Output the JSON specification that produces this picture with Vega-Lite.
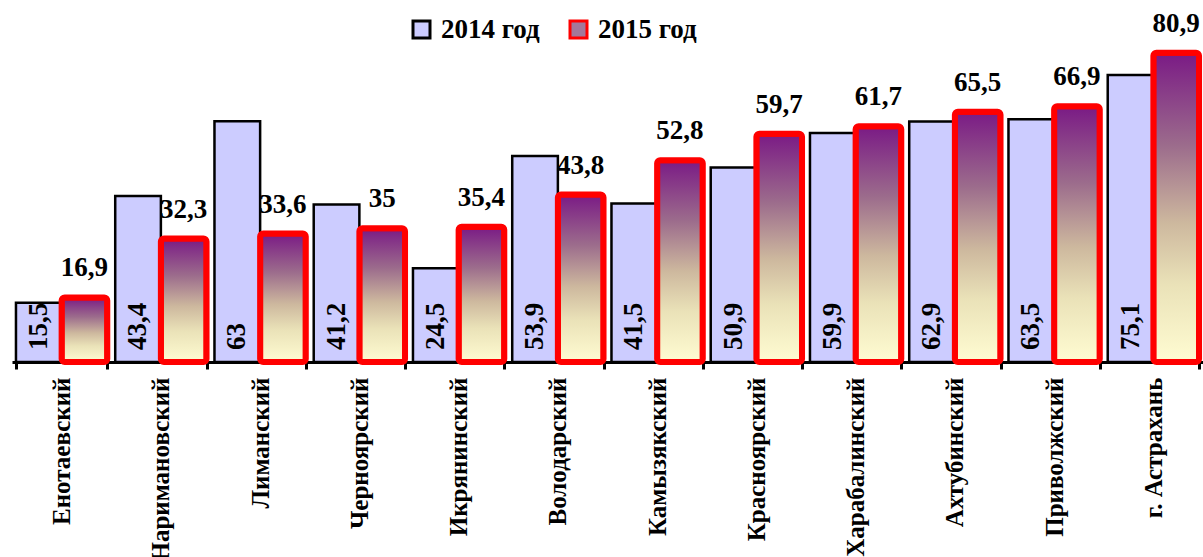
{
  "$schema": "https://vega.github.io/schema/vega-lite/v6.json",
  "width": 1191,
  "height": 344,
  "autosize": {"type": "none"},
  "padding": {"left": 12, "top": 18, "right": 0, "bottom": 195},
  "background": "white",
  "config": {
    "view": {"stroke": null},
    "locale": {"number": {"decimal": ",", "thousands": " ", "grouping": [3], "currency": ["", ""]}}
  },
  "data": {
    "values": [
      {"cat": "Енотаевский", "year": "2014", "yl": "2014 год", "v": 15.5},
      {"cat": "Енотаевский", "year": "2015", "yl": "2015 год", "v": 16.9},
      {"cat": "Наримановский", "year": "2014", "yl": "2014 год", "v": 43.4},
      {"cat": "Наримановский", "year": "2015", "yl": "2015 год", "v": 32.3},
      {"cat": "Лиманский", "year": "2014", "yl": "2014 год", "v": 63},
      {"cat": "Лиманский", "year": "2015", "yl": "2015 год", "v": 33.6},
      {"cat": "Черноярский", "year": "2014", "yl": "2014 год", "v": 41.2},
      {"cat": "Черноярский", "year": "2015", "yl": "2015 год", "v": 35},
      {"cat": "Икрянинский", "year": "2014", "yl": "2014 год", "v": 24.5},
      {"cat": "Икрянинский", "year": "2015", "yl": "2015 год", "v": 35.4},
      {"cat": "Володарский", "year": "2014", "yl": "2014 год", "v": 53.9},
      {"cat": "Володарский", "year": "2015", "yl": "2015 год", "v": 43.8},
      {"cat": "Камызякский", "year": "2014", "yl": "2014 год", "v": 41.5},
      {"cat": "Камызякский", "year": "2015", "yl": "2015 год", "v": 52.8},
      {"cat": "Красноярский", "year": "2014", "yl": "2014 год", "v": 50.9},
      {"cat": "Красноярский", "year": "2015", "yl": "2015 год", "v": 59.7},
      {"cat": "Харабалинский", "year": "2014", "yl": "2014 год", "v": 59.9},
      {"cat": "Харабалинский", "year": "2015", "yl": "2015 год", "v": 61.7},
      {"cat": "Ахтубинский", "year": "2014", "yl": "2014 год", "v": 62.9},
      {"cat": "Ахтубинский", "year": "2015", "yl": "2015 год", "v": 65.5},
      {"cat": "Приволжский", "year": "2014", "yl": "2014 год", "v": 63.5},
      {"cat": "Приволжский", "year": "2015", "yl": "2015 год", "v": 66.9},
      {"cat": "г. Астрахань", "year": "2014", "yl": "2014 год", "v": 75.1},
      {"cat": "г. Астрахань", "year": "2015", "yl": "2015 год", "v": 80.9}
    ]
  },
  "encoding": {
    "x": {
      "field": "cat", "type": "nominal", "sort": null,
      "scale": {"paddingInner": 0.08, "paddingOuter": 0.04},
      "axis": {
        "title": null, "labelAngle": 270, "labelAlign": "right", "labelBaseline": "middle",
        "labelFont": "Liberation Serif", "labelFontSize": 25, "labelFontWeight": "bold", "labelColor": "black",
        "labelPadding": 8, "labelLimit": 0,
        "domainColor": "black", "domainWidth": 3, "tickColor": "black", "tickWidth": 3, "tickSize": 7,
        "tickBand": "extent"
      }
    },
    "xOffset": {"field": "year", "type": "nominal", "scale": {"domain": ["2014", "2015"], "paddingInner": 0, "paddingOuter": 0}}
  },
  "layer": [
    {
      "transform": [{"filter": "datum.year == '2014'"}],
      "mark": {"type": "bar", "fill": "#ccccff", "stroke": "black", "strokeWidth": 2.5},
      "encoding": {
        "y": {"field": "v", "type": "quantitative", "scale": {"domain": [0, 90]}, "axis": null}
      }
    },
    {
      "transform": [{"filter": "datum.year == '2015'"}],
      "mark": {
        "type": "bar", "stroke": "red", "strokeWidth": 6, "strokeJoin": "round", "cornerRadius": 3,
        "fill": {"gradient": "linear", "x1": 0, "y1": 0, "x2": 0, "y2": 1,
          "stops": [
            {"offset": 0, "color": "#7a1a85"},
            {"offset": 0.3, "color": "#9c6c8c"},
            {"offset": 0.55, "color": "#cdb89e"},
            {"offset": 0.75, "color": "#eae2b8"},
            {"offset": 1, "color": "#fffcd2"}
          ]}
      },
      "encoding": {
        "y": {"field": "v", "type": "quantitative"}
      }
    },
    {
      "mark": {"type": "point", "filled": true, "size": 0, "opacity": 1, "strokeWidth": 3, "shape": "square"},
      "encoding": {
        "y": {"field": "v", "type": "quantitative"},
        "fill": {
          "field": "yl", "type": "nominal",
          "scale": {"domain": ["2014 год", "2015 год"], "range": ["#ccccff", "#a4789a"]},
          "legend": {
            "orient": "none", "legendX": 396, "legendY": -2, "direction": "horizontal", "title": null,
            "symbolType": "square", "symbolSize": 289, "columnPadding": 24, "symbolOpacity": 1,
            "symbolStrokeWidth": 3,
            "labelFont": "Liberation Serif", "labelFontSize": 27, "labelFontWeight": "bold", "labelColor": "black",
            "labelOffset": 6
          }
        },
        "stroke": {
          "field": "yl", "type": "nominal",
          "scale": {"domain": ["2014 год", "2015 год"], "range": ["black", "red"]}
        }
      }
    },
    {
      "transform": [{"filter": "datum.year == '2014'"}],
      "mark": {"type": "text", "angle": 270, "align": "left", "baseline": "middle", "dx": 12,
        "font": "Liberation Serif", "fontSize": 27, "fontWeight": "bold", "color": "black"},
      "encoding": {
        "y": {"datum": 0, "type": "quantitative"},
        "text": {"field": "v", "type": "quantitative", "format": ".1~f"}
      }
    },
    {
      "transform": [{"filter": "datum.year == '2015'"}],
      "mark": {"type": "text", "align": "center", "baseline": "middle", "dy": -29,
        "font": "Liberation Serif", "fontSize": 27, "fontWeight": "bold", "color": "black"},
      "encoding": {
        "y": {"field": "v", "type": "quantitative"},
        "text": {"field": "v", "type": "quantitative", "format": ".1~f"}
      }
    }
  ]
}
